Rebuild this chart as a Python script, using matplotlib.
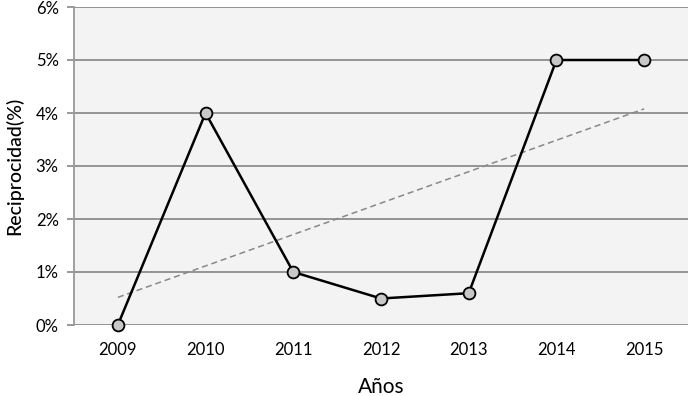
import numpy as np
import matplotlib.pyplot as plt

# Data
years = [2009, 2010, 2011, 2012, 2013, 2014, 2015]
reciprocidad = [0.0, 4.0, 1.0, 0.5, 0.6, 5.0, 5.0]
yticks = [0, 1, 2, 3, 4, 5, 6]
ytick_labels = ["0%", "1%", "2%", "3%", "4%", "5%", "6%"]

plt.rcParams['font.family'] = ['Lato', 'DejaVu Sans']

fig = plt.figure(figsize=(6.88, 3.96), dpi=100)
ax = fig.add_axes([74 / 688, 71 / 396, 614 / 688, 318 / 396])
ax.set_facecolor("#f3f3f3")

x = np.arange(len(years))

# linear trend line
coef = np.polyfit(x, reciprocidad, 1)
ax.plot(x, np.polyval(coef, x), color="#888888", linestyle=(0, (4, 2.5)), linewidth=1.1, zorder=2)

ax.plot(x, reciprocidad, color="black", linewidth=1.8, zorder=3,
        marker="o", markersize=8.5, markerfacecolor="#c8c8c8",
        markeredgecolor="black", markeredgewidth=1.3, clip_on=False)

ax.set_xlim(-0.5, len(years) - 0.5)
ax.set_ylim(0, 6)
ax.set_yticks(yticks)
ax.set_yticklabels(ytick_labels, fontsize=12)
ax.set_xticks(x)
ax.set_xticklabels([str(y) for y in years], fontsize=12)
ax.tick_params(axis="x", length=0, pad=12)
ax.tick_params(axis="y", length=5, color="#888888", width=1.2, pad=6)

ax.yaxis.grid(True, color="#8c8c8c", linewidth=1.3)
ax.set_axisbelow(True)
for side in ["top", "right", "bottom"]:
    ax.spines[side].set_visible(False)
ax.spines["left"].set_color("#999999")
ax.spines["left"].set_linewidth(1.3)

ax.set_xlabel("Años", fontsize=15, labelpad=14)
ax.set_ylabel("Reciprocidad(%)", fontsize=14, fontweight="medium", labelpad=9)

fig.savefig("out.png", dpi=100)
